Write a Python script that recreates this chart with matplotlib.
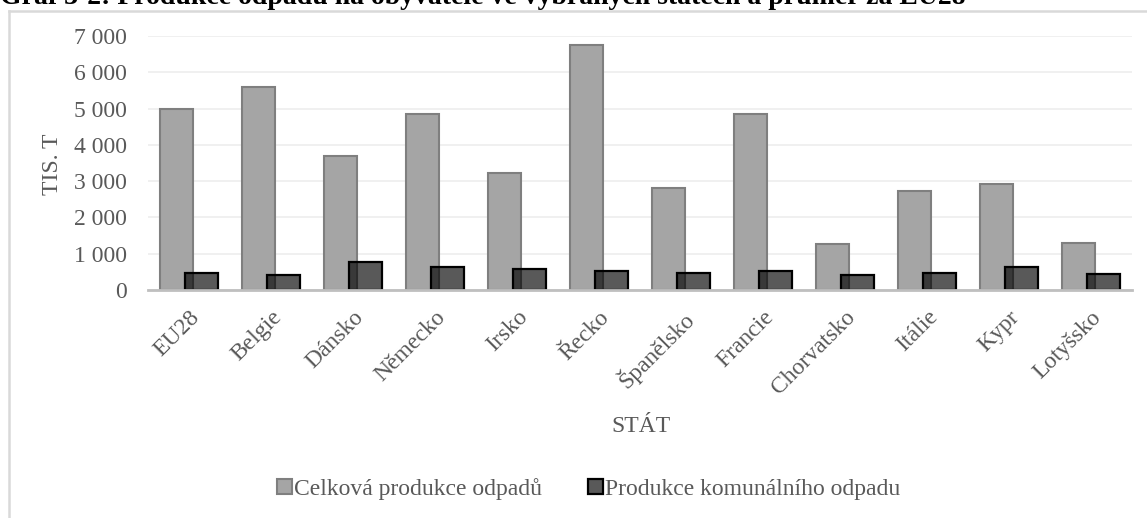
import matplotlib
matplotlib.use("Agg")
import matplotlib.pyplot as plt
from matplotlib.lines import Line2D
import numpy as np

categories = ['EU28', 'Belgie', 'Dánsko', 'Německo', 'Irsko', 'Řecko',
              'Španělsko', 'Francie', 'Chorvatsko', 'Itálie', 'Kypr', 'Lotyšsko']
total_waste = [4990, 5590, 3680, 4860, 3230, 6740, 2800, 4860, 1280, 2720, 2920, 1300]
municipal_waste = [480, 420, 770, 640, 590, 520, 460, 520, 420, 480, 640, 450]
yticks = [0, 1000, 2000, 3000, 4000, 5000, 6000, 7000]
ytick_labels = ['0', '1 000', '2 000', '3 000', '4 000', '5 000', '6 000', '7 000']

SERIF = ['Liberation Serif', 'DejaVu Serif']
plt.rcParams['font.family'] = SERIF
TXT = '#595959'
FS = 17

W, H = 1147, 518
fig = plt.figure(figsize=(W / 100, H / 100), dpi=100)
ax = fig.add_axes([148 / W, 1 - 290 / H, (1132 - 148) / W, (290 - 36) / H])

x = np.arange(len(categories))
bw = 0.40
off = 0.148
b1 = ax.bar(x - off, total_waste, bw, color='#a5a5a5', edgecolor='#7f7f7f',
            linewidth=1.5, label='Celková produkce odpadů', zorder=2)
b2 = ax.bar(x + off, municipal_waste, bw, color=(0, 0, 0, 0.65), edgecolor='black',
            linewidth=1.6, label='Produkce komunálního odpadu', zorder=3)

ax.set_xlim(-0.5, len(categories) - 0.5)
ax.set_ylim(0, 7000)
ax.set_yticks(yticks)
ax.set_yticklabels(ytick_labels)
ax.yaxis.grid(True, color='#efefef', linewidth=1.3, zorder=0)
ax.set_axisbelow(True)
for s in ['top', 'right', 'left']:
    ax.spines[s].set_visible(False)
ax.spines['bottom'].set_color('#bfbfbf')
ax.spines['bottom'].set_linewidth(2)
ax.spines['bottom'].set_zorder(4)

ax.tick_params(axis='y', length=0, pad=15, labelsize=FS, labelcolor=TXT)
ax.tick_params(axis='x', length=0, pad=12, labelsize=FS, labelcolor=TXT)
ax.set_xticks(x)
ax.set_xticklabels(categories, rotation=45, ha='right', rotation_mode='anchor')

fig.text(52 / W, 1 - 164 / H, 'TIS. T', rotation=90, ha='center', va='center',
         fontsize=FS, color=TXT)
fig.text(641 / W, 1 - 426 / H, 'STÁT', ha='center', va='center',
         fontsize=FS, color=TXT)

fig.legend(handles=[b1, b2], loc='center', bbox_to_anchor=(589 / W, 1 - 489 / H),
           ncol=2, frameon=False, fontsize=FS, labelcolor=TXT,
           handlelength=0.6, handleheight=0.6, handletextpad=0.12,
           columnspacing=1.95, borderpad=0)

# chart frame (only left and top edges visible)
fig.add_artist(Line2D([9 / W, 9 / W], [0, 1 - 11 / H], transform=fig.transFigure,
                      color='#d9d9d9', linewidth=1.8))
fig.add_artist(Line2D([9 / W, 1], [1 - 11 / H, 1 - 11 / H], transform=fig.transFigure,
                      color='#d9d9d9', linewidth=1.8))

fig.text(0.0, 1 - 4 / H,
         'Graf 3-2: Produkce odpadů na obyvatele ve vybraných státech a průměr za EU28',
         ha='left', va='baseline', fontsize=20, fontweight='bold', color='black',
         zorder=0)

fig.savefig('out.png', dpi=100)
